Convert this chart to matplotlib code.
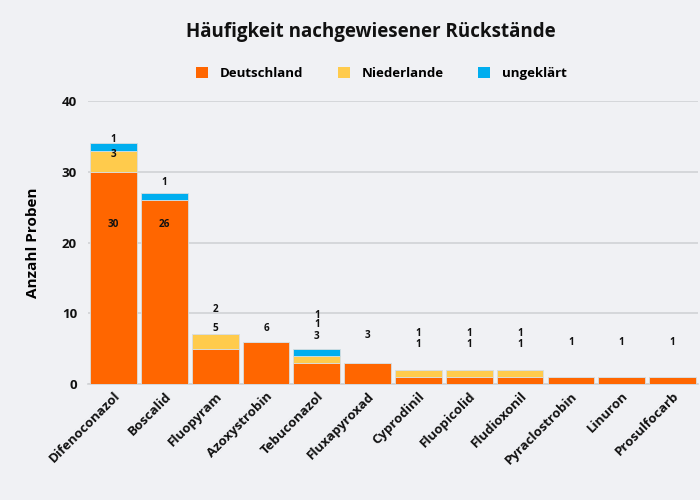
import matplotlib
matplotlib.use("Agg")
import matplotlib.pyplot as plt
from matplotlib.patches import Patch

categories = ["Difenoconazol", "Boscalid", "Fluopyram", "Azoxystrobin", "Tebuconazol",
              "Fluxapyroxad", "Cyprodinil", "Fluopicolid", "Fludioxonil",
              "Pyraclostrobin", "Linuron", "Prosulfocarb"]
deutschland = [30, 26, 5, 6, 3, 3, 1, 1, 1, 1, 1, 1]
niederlande = [3, 0, 2, 0, 1, 0, 1, 1, 1, 0, 0, 0]
ungeklaert = [1, 1, 0, 0, 1, 0, 0, 0, 0, 0, 0, 0]
series_names = ["Deutschland", "Niederlande", "ungeklärt"]
colors = ["#FF6600", "#FFCB4C", "#00AEEF"]

# label y positions (layout, in data units) per series
lab_de = [22.5, 22.5, 7.9, 7.9, 6.75, 6.8, 5.65, 5.65, 5.65, 5.9, 5.9, 5.9]
lab_nl = [32.5, None, 10.6, None, 8.35, None, 7.07, 7.07, 7.07, None, None, None]
lab_un = [34.5, 28.5, None, None, 9.75, None, None, None, None, None, None, None]

plt.rcParams['font.family'] = ['Open Sans', 'DejaVu Sans']
bg = "#F0F1F4"
fig = plt.figure(figsize=(7, 5), dpi=100, facecolor=bg)
ax = fig.add_axes([0.126, 0.232, 0.871, 0.566], facecolor=bg)

x = list(range(len(categories)))
w = 0.92
bottoms = [0] * len(categories)
for vals, c in zip([deutschland, niederlande, ungeklaert], colors):
    ax.bar(x, vals, w, bottom=bottoms, color=c, edgecolor="#D8DEDF", linewidth=0.6, zorder=3)
    bottoms = [b + v for b, v in zip(bottoms, vals)]

for vals, labs in zip([deutschland, niederlande, ungeklaert], [lab_de, lab_nl, lab_un]):
    for i, (v, ly) in enumerate(zip(vals, labs)):
        if v and ly is not None:
            ax.text(i, ly, str(v), ha="center", va="center", fontsize=7.2,
                    fontweight="bold", color="#111111", zorder=5, clip_on=False)

ax.set_xlim(-0.5, len(categories) - 0.5)
ax.set_ylim(0, 40)
ax.set_yticks([0, 10, 20, 30, 40])
ax.set_yticklabels(["0", "10", "20", "30", "40"], fontsize=9.5, fontweight="bold")
ax.set_xticks(x)
ax.set_xticklabels(categories, rotation=45, ha="right", rotation_mode="anchor",
                   fontsize=9.5, fontweight="bold")
ax.tick_params(axis="both", length=0, pad=8, colors="#111111")
ax.tick_params(axis="x", pad=4)
ax.grid(axis="y", color="#D0D2D5", linewidth=1.2, zorder=0)
for s in ["top", "right", "left"]:
    ax.spines[s].set_visible(False)
ax.spines["bottom"].set_color("#D0D2D5")
ax.spines["bottom"].set_linewidth(1.2)

ax.set_ylabel("Anzahl Proben", fontsize=11, fontweight="bold", labelpad=16)

fig.text(0.53, 0.936, "Häufigkeit nachgewiesener Rückstände", ha="center", va="center",
         fontsize=13.5, fontweight="bold", color="#111111")

handles = [Patch(facecolor=c, edgecolor="none") for c in colors]
fig.legend(handles, series_names, loc="center", bbox_to_anchor=(0.545, 0.853), ncol=3,
           frameon=False, prop={"weight": "bold", "size": 9.5}, handlelength=0.9,
           handleheight=0.9, columnspacing=2.6, handletextpad=0.9)

fig.savefig("out.png", dpi=100, facecolor=bg)
